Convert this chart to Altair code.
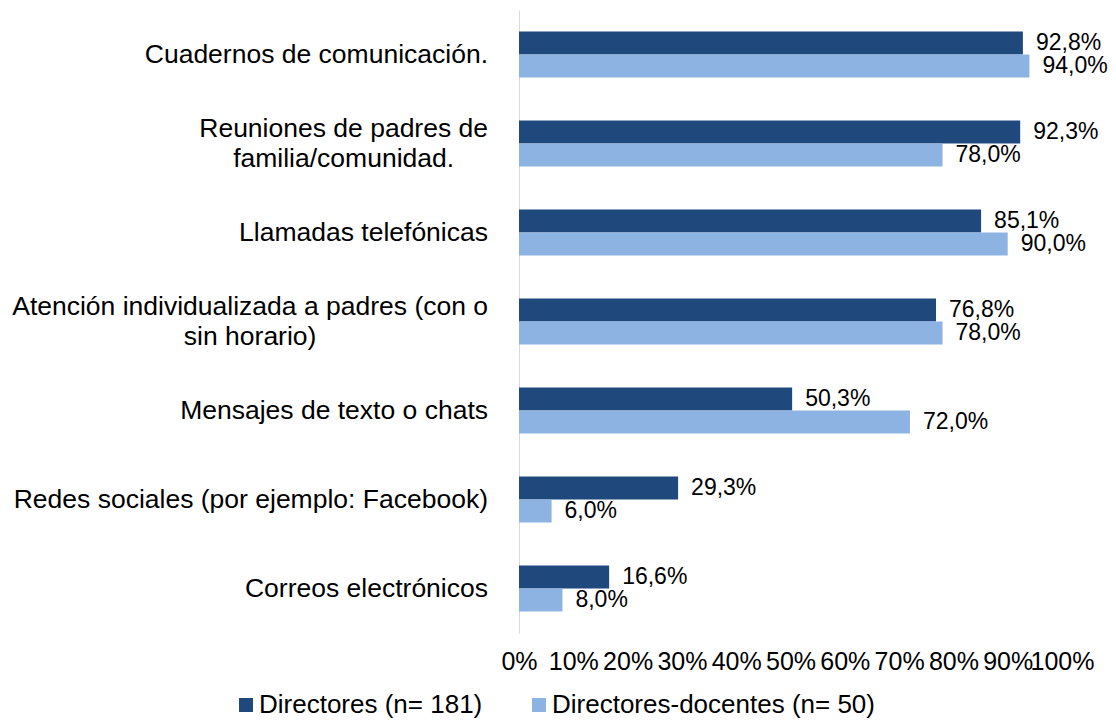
import altair as alt
import pandas as pd

# ---- data ----
label_lines = [
    ["Cuadernos de comunicación."],
    ["Reuniones de padres de", "familia/comunidad."],
    ["Llamadas telefónicas"],
    ["Atención individualizada a padres (con o", "sin horario)"],
    ["Mensajes de texto o chats"],
    ["Redes sociales (por ejemplo: Facebook)"],
    ["Correos electrónicos"],
]
directores = [92.8, 92.3, 85.1, 76.8, 50.3, 29.3, 16.6]
directores_docentes = [94.0, 78.0, 90.0, 78.0, 72.0, 6.0, 8.0]
series = ["Directores (n= 181)", "Directores-docentes (n= 50)"]
x_ticks = [0, 10, 20, 30, 40, 50, 60, 70, 80, 90, 100]

FONT = "Liberation Sans"
COL_DARK = "#1F497D"
COL_LIGHT = "#8DB3E2"
CAT_FS = 26.5

# Arial / Liberation Sans advance widths (1/1000 em): used only to centre the
# lines of a wrapped label inside its right-aligned block, as Excel does.
ADV = {' ': 278, '(': 333, ')': 333, '.': 278, '/': 278, ':': 278, 'A': 667,
       'R': 722, 'a': 556, 'c': 500, 'd': 556, 'e': 556, 'f': 278, 'h': 556,
       'i': 222, 'l': 222, 'm': 833, 'n': 556, 'o': 556, 'ó': 556, 'p': 556,
       'r': 333, 's': 500, 't': 278, 'u': 556, 'v': 500, 'z': 500}

categories = [" ".join(l) for l in label_lines]

rows = []
for i, cat in enumerate(categories):
    rows.append({"cat": cat, "serie": series[0], "value": directores[i]})
    rows.append({"cat": cat, "serie": series[1], "value": directores_docentes[i]})
df = pd.DataFrame(rows)

lab_rows = []
for cat, lines in zip(categories, label_lines):
    wmax = max(sum(ADV.get(ch, 556) for ch in ln) for ln in lines)
    lab_rows.append({
        "cat": cat,
        "txt": "\n".join(lines),
        "multi": len(lines) > 1,
        "shift": -wmax * CAT_FS / 1000 / 2,
    })
df_lab = pd.DataFrame(lab_rows)

y_scale = alt.Scale(domain=categories, paddingInner=0.483, paddingOuter=0.2415)

y_enc = alt.Y(
    "cat:N",
    sort=categories,
    scale=y_scale,
    axis=alt.Axis(
        title=None,
        ticks=False,
        tickSize=0,
        labels=False,
        domain=True,
        domainColor="#D9D9D9",
        domainWidth=1,
        grid=False,
    ),
)
yoff_enc = alt.YOffset("serie:N", sort=series, scale=alt.Scale(paddingInner=0, paddingOuter=0))

x_enc = alt.X(
    "value:Q",
    scale=alt.Scale(domain=[0, 100], nice=False),
    axis=alt.Axis(
        title=None,
        values=x_ticks,
        labelExpr="datum.value + '%'",
        domain=False,
        ticks=False,
        grid=False,
        labelFont=FONT,
        labelFontSize=25,
        labelColor="#000000",
        labelPadding=16,
        labelOverlap=False,
        labelFlush=False,
    ),
)

color_enc = alt.Color(
    "serie:N",
    sort=series,
    scale=alt.Scale(domain=series, range=[COL_DARK, COL_LIGHT]),
    legend=alt.Legend(
        title=None,
        orient="none",
        direction="horizontal",
        legendX=-286,
        legendY=682,
        symbolType="square",
        symbolSize=196,
        symbolStrokeWidth=0,
        labelFont=FONT,
        labelFontSize=26,
        labelColor="#000000",
        labelOffset=0,
        columnPadding=43,
        labelLimit=0,
    ),
)

base = alt.Chart(df)

bars = base.mark_bar(size=23, strokeWidth=0).encode(
    y=y_enc, yOffset=yoff_enc, x=x_enc, color=color_enc
)

values = base.transform_calculate(
    txt="replace(format(datum.value, '.1f'), '.', ',') + '%'"
).mark_text(
    align="left", baseline="middle", dx=13, font=FONT, fontSize=23, color="#000000"
).encode(
    y=alt.Y("cat:N", sort=categories),
    yOffset=alt.YOffset("serie:N", sort=series),
    x="value:Q",
    text="txt:N",
)

lab_base = alt.Chart(df_lab)

cat_single = lab_base.transform_filter("!datum.multi").mark_text(
    align="right", baseline="middle", font=FONT, fontSize=CAT_FS, color="#000000"
).encode(
    y=alt.Y("cat:N", sort=categories),
    x=alt.value(-31),
    text="txt:N",
)

cat_multi = lab_base.transform_filter("datum.multi").mark_text(
    align="center", baseline="middle", font=FONT, fontSize=CAT_FS, color="#000000",
    lineBreak="\n", lineHeight=30, dy=-15, dx=alt.ExprRef(expr="datum.shift"),
).encode(
    y=alt.Y("cat:N", sort=categories),
    x=alt.value(-31),
    text="txt:N",
)

chart = (
    alt.layer(bars, values, cat_single, cat_multi)
    .properties(
        width=543,
        height=623,
        autosize=alt.AutoSizeParams(type="none"),
        padding={"left": 511, "top": 2, "right": 46, "bottom": 87},
    )
    .configure(font=FONT)
    .configure_view(strokeWidth=0, stroke="transparent")
)

chart.save("out.html", embed_options={"renderer": "svg", "actions": False})
